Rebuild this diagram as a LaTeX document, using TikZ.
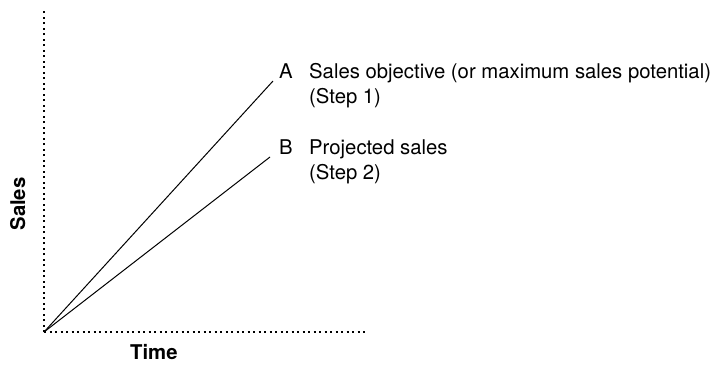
\documentclass[tikz,border=0pt]{standalone}
\usepackage{fontspec}
\setmainfont{TeX Gyre Heros}
\begin{document}
\begin{tikzpicture}[x=1pt,y=-1pt,
  axis/.style={line width=2pt,dash pattern=on 2pt off 3.5pt},
  trend/.style={line width=1pt},
  letter/.style={anchor=base west,inner sep=0pt,font=\fontsize{20.3}{25}\selectfont},
  caption/.style={anchor=base west,inner sep=0pt,align=left,font=\fontsize{20.3}{25}\selectfont},
  axislabel/.style={inner sep=0pt,font=\fontsize{20.3}{24}\selectfont\bfseries}]
\useasboundingbox (0,0) rectangle (711,364);
% axes
\coordinate (O) at (44,332);
\coordinate (Ytop) at (44,10);
\coordinate (Xend) at (367,332);
\draw[axis] (O) -- (Ytop);
\draw[axis] (O) -- (Xend);
% growth lines
\coordinate (Aend) at (273,81);
\coordinate (Bend) at (270,157);
\draw[trend] (O) -- (Aend);
\draw[trend] (O) -- (Bend);
% line labels (caption base anchor sits on the second line)
\node[letter] (la) at (279,78) {A};
\node[caption] (ta) at (309,103) {Sales objective (or maximum sales potential)\\(Step 1)};
\node[letter] (lb) at (279,154) {B};
\node[caption] (tb) at (309,179) {Projected sales\\(Step 2)};
% axis titles
\node[axislabel,anchor=base west] (time) at (130,359) {Time};
\node[axislabel,anchor=base,rotate=90] (sales) at (25,204) {Sales};
\end{tikzpicture}
\end{document}
